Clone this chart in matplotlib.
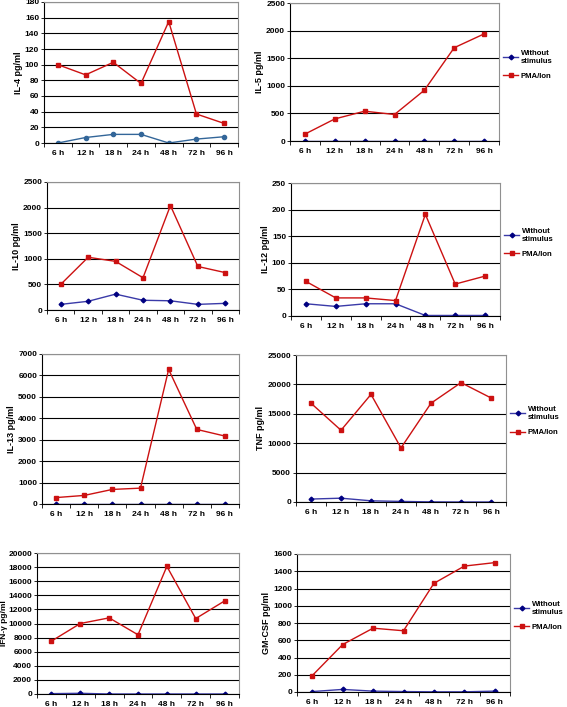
import matplotlib
matplotlib.use("Agg")
import matplotlib.pyplot as plt
import numpy as np

plt.rcParams["font.family"] = ["Liberation Sans", "DejaVu Sans"]
plt.rcParams["font.weight"] = "bold"

W, H = 567, 707

times = ["6 h", "12 h", "18 h", "24 h", "48 h", "72 h", "96 h"]
series_names = ["Without\nstimulus", "PMA/Ion"]

il4_pma = [100, 87, 103, 76, 155, 37, 25]
il4_none = [0, 7, 11, 11, 0, 5, 8]
il5_pma = [125, 400, 540, 480, 920, 1690, 1940]
il5_none = [0, 0, 0, 0, 0, 0, 0]
il10_pma = [500, 1030, 950, 630, 2040, 850, 730]
il10_none = [110, 170, 310, 190, 180, 110, 130]
il12_pma = [65, 34, 34, 29, 191, 60, 75]
il12_none = [23, 18, 23, 23, 1, 1, 1]
il13_pma = [300, 400, 680, 740, 6280, 3480, 3170]
il13_none = [0, 0, 0, 0, 0, 0, 0]
tnf_pma = [16800, 12200, 18300, 9200, 16800, 20300, 17700]
tnf_none = [500, 650, 200, 100, 20, 0, 0]
ifn_pma = [7500, 10000, 10800, 8400, 18100, 10700, 13200]
ifn_none = [50, 100, 0, 0, 0, 0, 0]
gm_pma = [190, 550, 740, 710, 1260, 1460, 1500]
gm_none = [5, 30, 10, 5, 2, 2, 10]

# label, pma, none, ymax, ystep, box (l, t, r, b) in px, legend?
panels = [
    ("IL-4 pg/ml", il4_pma, il4_none, 180, 20, (44, 2, 238, 143), False),
    ("IL-5 pg/ml", il5_pma, il5_none, 2500, 500, (290, 3, 499, 141), True),
    ("IL-10 pg/ml", il10_pma, il10_none, 2500, 500, (47, 182, 239, 310), False),
    ("IL-12 pg/ml", il12_pma, il12_none, 250, 50, (291, 183, 500, 316), True),
    ("IL-13 pg/ml", il13_pma, il13_none, 7000, 1000, (42, 354, 239, 504), False),
    ("TNF pg/ml", tnf_pma, tnf_none, 25000, 5000, (296, 355, 506, 502), True),
    ("IFN-γ pg/ml", ifn_pma, ifn_none, 20000, 2000, (37, 553, 239, 694), False),
    ("GM-CSF pg/ml", gm_pma, gm_none, 1600, 200, (297, 554, 510, 692), True),
]

fig = plt.figure(figsize=(W / 100, H / 100), dpi=100)

x = np.arange(len(times))
for i, (label, pma, none, ymax, ystep, box, has_legend) in enumerate(panels):
    l, t, r, b = box
    ax = fig.add_axes([l / W, 1 - b / H, (r - l) / W, (b - t) / H])
    if i == 0:
        ln1, = ax.plot(x, none, color="#336699", marker="o", ms=3, lw=1,
                       label=series_names[0])
    else:
        ln1, = ax.plot(x, none, color="#3a3aa8", marker="D", ms=2.4, lw=1,
                       mfc="#000080", mec="#000080", label=series_names[0])
    ln2, = ax.plot(x, pma, color="#cc1111", marker="s", ms=3.3, lw=1,
                   label=series_names[1])
    ax.set_xlim(-0.5, len(times) - 0.5)
    ax.set_ylim(0, ymax)
    ax.set_yticks(np.arange(0, ymax + 1, ystep))
    ax.set_xticks(x)
    ax.set_xticklabels(times)
    ax.set_xticks(np.arange(-0.5, len(times), 1), minor=True)
    ax.tick_params(axis="x", which="major", length=0, pad=5, labelsize=6)
    ax.tick_params(axis="x", which="minor", length=3, width=0.6, direction="out")
    ax.tick_params(axis="y", length=2, width=0.6, pad=1.5, labelsize=6)
    ax.yaxis.grid(True, color="black", lw=0.8)
    ax.set_axisbelow(True)
    for s in ("top", "right"):
        ax.spines[s].set_color("#909090")
        ax.spines[s].set_linewidth(0.8)
    for s in ("left", "bottom"):
        ax.spines[s].set_color("black")
        ax.spines[s].set_linewidth(0.8)
    # the IFN-γ panel sits close to the left edge
    tight = l < 40
    ax.set_ylabel(label, fontsize=6 if tight else 6.5, fontweight="bold",
                  labelpad=0 if tight else 1.5)
    if has_legend:
        ax.legend(handles=[ln1, ln2], loc="center left",
                  bbox_to_anchor=(1.0, 0.55), frameon=False, fontsize=5.6,
                  handlelength=2.0, handletextpad=0.3, labelspacing=1.0,
                  borderaxespad=0.1)

fig.savefig("out.png", dpi=100)
